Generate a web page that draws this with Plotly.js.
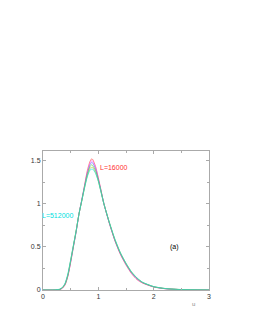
<!DOCTYPE html>
<html>
<head>
<meta charset="utf-8">
<script src="https://cdn.plot.ly/plotly-3.0.1.min.js"></script>
<style>html,body{margin:0;padding:0;background:#fff;}#chart{width:253px;height:327px;}</style>
</head>
<body>
<div id="chart"></div>
<script>
const u = [0, 0.2, 0.3, 0.35, 0.4, 0.45, 0.5, 0.55, 0.6, 0.65, 0.7, 0.75, 0.8, 0.85, 0.88, 0.9, 0.95, 1.0, 1.05, 1.1, 1.2, 1.3, 1.4, 1.5, 1.6, 1.7, 1.8, 2.0, 2.2, 2.5, 3.0];
const seriesNames = ["L=16000", "L=32000", "L=64000", "L=128000", "L=256000", "L=512000"];
const seriesColors = ["#ff3030", "#ff60ff", "#6060ff", "#40d040", "#c0c040", "#00e0e0"];
const p16000  = [0, 0, 0.004, 0.02, 0.06, 0.16, 0.32, 0.50, 0.68, 0.88, 1.04, 1.21, 1.38, 1.49, 1.52, 1.51, 1.43, 1.30, 1.15, 1.00, 0.77, 0.57, 0.41, 0.29, 0.19, 0.12, 0.08, 0.035, 0.015, 0.004, 0];
const p32000  = [0, 0, 0.005, 0.02, 0.065, 0.165, 0.325, 0.50, 0.68, 0.88, 1.04, 1.20, 1.36, 1.47, 1.50, 1.49, 1.42, 1.29, 1.15, 1.00, 0.77, 0.57, 0.415, 0.295, 0.195, 0.125, 0.082, 0.036, 0.016, 0.004, 0];
const p64000  = [0, 0, 0.006, 0.025, 0.07, 0.17, 0.33, 0.51, 0.68, 0.88, 1.04, 1.20, 1.35, 1.45, 1.48, 1.47, 1.40, 1.28, 1.14, 1.00, 0.775, 0.575, 0.42, 0.30, 0.20, 0.13, 0.085, 0.037, 0.016, 0.004, 0];
const p128000 = [0, 0, 0.007, 0.025, 0.07, 0.175, 0.34, 0.51, 0.69, 0.88, 1.03, 1.19, 1.33, 1.43, 1.45, 1.44, 1.38, 1.27, 1.14, 1.00, 0.78, 0.58, 0.425, 0.305, 0.205, 0.135, 0.087, 0.038, 0.017, 0.005, 0];
const p256000 = [0, 0, 0.008, 0.028, 0.075, 0.18, 0.345, 0.52, 0.69, 0.88, 1.03, 1.18, 1.32, 1.41, 1.42, 1.42, 1.36, 1.26, 1.13, 1.00, 0.78, 0.585, 0.43, 0.31, 0.21, 0.138, 0.088, 0.039, 0.018, 0.005, 0];
const p512000 = [0, 0, 0.01, 0.03, 0.08, 0.19, 0.35, 0.52, 0.69, 0.88, 1.03, 1.18, 1.31, 1.39, 1.40, 1.40, 1.35, 1.26, 1.13, 1.00, 0.78, 0.59, 0.43, 0.31, 0.21, 0.14, 0.09, 0.04, 0.018, 0.005, 0];
const seriesValues = [p16000, p32000, p64000, p128000, p256000, p512000];
const xTickVals = [0, 1, 2, 3];
const yTickVals = [0, 0.5, 1, 1.5];
const yTickText = ["0", "0.5", "1", "1.5"];

const traces = seriesValues.map((vals, i) => ({
  x: u, y: vals, type: "scatter", mode: "lines", name: seriesNames[i],
  line: {color: seriesColors[i], width: 0.8, shape: "spline", smoothing: 0.6}, opacity: 0.75
}));

const axisCommon = {
  showgrid: false, zeroline: false, showline: true, linecolor: "#aaaaaa", linewidth: 1,
  mirror: "allticks", ticks: "inside", ticklen: 3, tickcolor: "#aaaaaa",
  tickfont: {size: 7, color: "#333333", family: "Liberation Sans, Arial, sans-serif"}
};

const layout = {
  width: 253, height: 327,
  margin: {l: 43, r: 44, t: 151, b: 37},
  paper_bgcolor: "#ffffff", plot_bgcolor: "#ffffff",
  showlegend: false,
  xaxis: Object.assign({}, axisCommon, {range: [0, 3], tickvals: xTickVals, ticktext: xTickVals.map(String),
    minor: {dtick: 0.5, ticks: "inside", ticklen: 2, tickcolor: "#aaaaaa"}}),
  yaxis: Object.assign({}, axisCommon, {range: [0, 1.61], tickvals: yTickVals, ticktext: yTickText,
    minor: {dtick: 0.25, ticks: "inside", ticklen: 2, tickcolor: "#aaaaaa"}}),
  annotations: [
    {x: 1.28, y: 1.415, xref: "x", yref: "y", text: "L=16000", showarrow: false,
     font: {size: 7, color: "#ff3030", family: "Liberation Sans, Arial, sans-serif"}},
    {x: 0.27, y: 0.86, xref: "x", yref: "y", text: "L=512000", showarrow: false,
     font: {size: 7, color: "#00e0e0", family: "Liberation Sans, Arial, sans-serif"}},
    {x: 2.37, y: 0.5, xref: "x", yref: "y", text: "(a)", showarrow: false,
     font: {size: 7, color: "#000000", family: "Liberation Sans, Arial, sans-serif"}},
    {x: 0.928, y: -0.14, xref: "paper", yref: "paper", text: "u", showarrow: false,
     font: {size: 6, color: "#888888", family: "Liberation Sans, Arial, sans-serif"}}
  ]
};

Plotly.newPlot("chart", traces, layout, {displayModeBar: false, staticPlot: true});
</script>
</body>
</html>
